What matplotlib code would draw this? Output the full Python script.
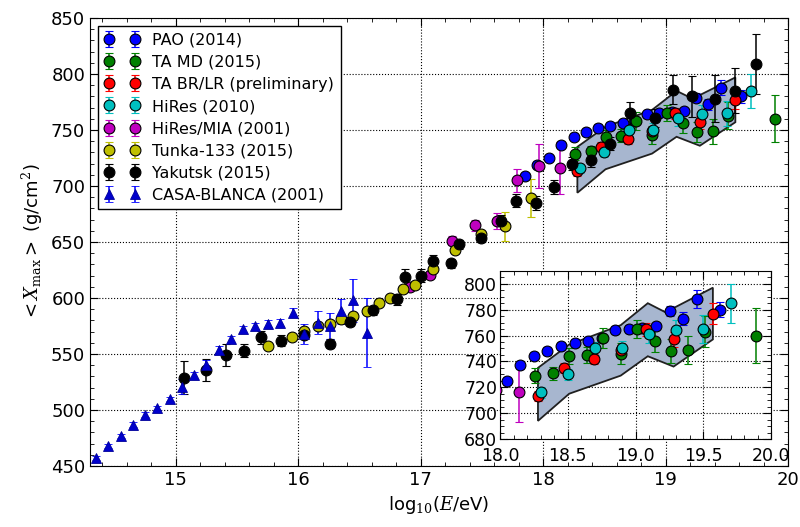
import numpy as np
import matplotlib
matplotlib.use("Agg")
import matplotlib.pyplot as plt
from matplotlib.ticker import MultipleLocator, FormatStrFormatter

# ---- data ----
pao_x = [17.85, 17.95, 18.05, 18.15, 18.25, 18.35, 18.45, 18.55, 18.65, 18.75,
         18.85, 18.95, 19.05, 19.15, 19.25, 19.35, 19.45, 19.62]
pao_y = [709, 719, 725, 737, 744, 748, 752, 754, 756, 758,
         764, 765, 766, 767, 779, 773, 788, 780]
pao_e = [3, 3, 3, 3, 3, 3, 3, 3, 3, 3, 3, 3, 3, 3, 4, 5, 7, 6]

tamd_x = [18.26, 18.39, 18.51, 18.64, 18.76, 18.89, 19.01, 19.14, 19.26, 19.39, 19.51, 19.89]
tamd_y = [729, 731, 744, 745, 758, 746, 765, 756, 748, 749, 763, 760]
tamd_e = [6, 5, 6, 6, 8, 8, 7, 9, 9, 11, 12, 21]

tabr_x = [18.28, 18.47, 18.69, 18.89, 19.08, 19.28, 19.57]
tabr_y = [713, 735, 742, 749, 765, 757, 777]
tabr_e = [4, 4, 4, 4, 5, 6, 8]

hires_x = [18.30, 18.50, 18.70, 18.90, 19.10, 19.30, 19.50, 19.70]
hires_y = [716, 730, 750, 750, 761, 764, 765, 785]
hires_e = [4, 4, 5, 6, 7, 8, 11, 15]

mia_x = [16.91, 17.08, 17.26, 17.44, 17.62, 17.79, 17.97, 18.14]
mia_y = [610, 621, 651, 665, 669, 705, 718, 716]
mia_e = [3, 3, 4, 5, 7, 10, 20, 23]

tunka_x = [15.75, 15.95, 16.05, 16.16, 16.26, 16.35, 16.45, 16.56, 16.66, 16.75,
           16.86, 16.95, 17.10, 17.28, 17.49, 17.69, 17.90]
tunka_y = [557, 565, 571, 575, 577, 581, 584, 588, 596, 600,
           608, 612, 626, 643, 657, 664, 689]
tunka_e = [2, 2, 2, 2, 2, 2, 2, 2, 2, 2, 2, 2, 3, 3, 4, 13, 17]

yak_x = [15.07, 15.25, 15.41, 15.56, 15.70, 15.86, 16.05, 16.26, 16.42, 16.61,
         16.81, 16.87, 17.00, 17.10, 17.25, 17.31, 17.49, 17.66, 17.78, 17.94,
         18.09, 18.24, 18.39, 18.55, 18.71, 18.91, 19.06, 19.22, 19.40, 19.57, 19.74]
yak_y = [529, 536, 549, 553, 565, 562, 567, 559, 579, 589,
         599, 619, 620, 633, 631, 648, 654, 669, 687, 685,
         699, 720, 723, 738, 765, 761, 786, 780, 778, 785, 809]
yak_e = [15, 10, 10, 6, 6, 5, 4, 4, 4, 4,
         5, 7, 6, 5, 4, 4, 4, 5, 6, 6,
         6, 6, 6, 6, 10, 8, 13, 18, 21, 20, 27]

casa_x = [14.35, 14.45, 14.55, 14.65, 14.75, 14.85, 14.95, 15.05, 15.15, 15.25,
          15.35, 15.45, 15.55, 15.65, 15.75, 15.85, 15.96, 16.05, 16.16, 16.26,
          16.35, 16.45, 16.56]
casa_y = [457, 468, 477, 487, 496, 502, 510, 521, 531, 540,
          554, 563, 572, 575, 577, 578, 587, 568, 578, 575,
          588, 598, 569]
casa_e = [2, 2, 2, 2, 2, 2, 2, 7, 3, 5,
          3, 3, 3, 3, 3, 3, 4, 9, 10, 12,
          11, 19, 31]

# systematic band (upper edge then lower edge back)
band_x = [18.28, 18.51, 18.89, 19.09, 19.22, 19.57,
          19.57, 19.28, 19.09, 18.89, 18.51, 18.28]
band_y = [735, 753, 768, 785, 778, 797,
          757, 736, 744, 729, 715, 694]

series = [
    ("PAO (2014)", pao_x, pao_y, pao_e, "b", "o"),
    ("TA MD (2015)", tamd_x, tamd_y, tamd_e, "g", "o"),
    ("TA BR/LR (preliminary)", tabr_x, tabr_y, tabr_e, "r", "o"),
    ("HiRes (2010)", hires_x, hires_y, hires_e, "c", "o"),
    ("HiRes/MIA (2001)", mia_x, mia_y, mia_e, "m", "o"),
    ("Tunka-133 (2015)", tunka_x, tunka_y, tunka_e, "y", "o"),
    ("Yakutsk (2015)", yak_x, yak_y, yak_e, "k", "o"),
    ("CASA-BLANCA (2001)", casa_x, casa_y, casa_e, "b", "^"),
]

plt.rcParams['font.family'] = ['DejaVu Sans']
plt.rcParams['mathtext.fontset'] = 'dejavuserif'

fig = plt.figure(figsize=(8, 5.27), dpi=100)
ax = fig.add_axes([0.1125, 0.1157, 0.8725, 0.85])
ins = fig.add_axes([0.625, 0.167, 0.339, 0.319])


def draw(a, skip=()):
    a.fill(band_x, band_y, facecolor="#a7b6cf", edgecolor="#202020", lw=1.3, zorder=2)
    for lab, x, y, e, c, m in series:
        if lab in skip:
            continue
        if m == "o":
            a.errorbar(x, y, yerr=e, fmt=m, color=c, mfc=c, mec="k", ms=7.8,
                       capsize=3, elinewidth=1.1, capthick=1.0, mew=0.8,
                       label=lab, zorder=3)
        else:
            a.errorbar(x, y, yerr=e, fmt=m, color=c, mfc="#0000cc", mec="#000099",
                       ms=7, capsize=3, elinewidth=1.1, capthick=1.0, mew=0.6,
                       label=lab, zorder=3)


draw(ax)
draw(ins, skip=("Yakutsk (2015)", "Tunka-133 (2015)", "CASA-BLANCA (2001)"))

for a in (ax, ins):
    a.grid(True, linestyle=":", color="k", lw=0.8)
    a.tick_params(direction="in", which="both", top=True, right=True, labelsize=13)
    a.tick_params(which="major", length=6)
    a.tick_params(which="minor", length=3)

ax.set_xlim(14.3, 20.0)
ax.set_ylim(450, 850)
ax.xaxis.set_major_locator(MultipleLocator(1))
ax.xaxis.set_minor_locator(MultipleLocator(0.2))
ax.yaxis.set_major_locator(MultipleLocator(50))
ax.yaxis.set_minor_locator(MultipleLocator(10))
ax.set_xlabel(r"log$_{10}$($E$/eV)", fontsize=13)
ax.set_ylabel(r"$<X_{\rm max}>$ (g/cm$^2$)", fontsize=13)

ins.set_xlim(18.0, 20.0)
ins.set_ylim(680, 810)
ins.xaxis.set_major_locator(MultipleLocator(0.5))
ins.xaxis.set_minor_locator(MultipleLocator(0.1))
ins.xaxis.set_major_formatter(FormatStrFormatter("%.1f"))
ins.yaxis.set_major_locator(MultipleLocator(20))
ins.yaxis.set_minor_locator(MultipleLocator(5))
ins.tick_params(axis="y", pad=2, labelsize=12.5)
ins.tick_params(axis="x", pad=6, labelsize=12.5)

leg = ax.legend(loc="upper left", numpoints=2, fontsize=11.5, fancybox=False,
                framealpha=1, edgecolor="k", borderaxespad=0.5, handlelength=2.2,
                labelspacing=0.45)
leg.get_frame().set_linewidth(1.0)

fig.savefig("out.png", dpi=100)
